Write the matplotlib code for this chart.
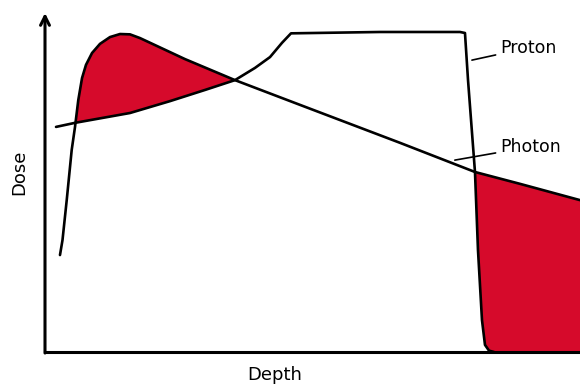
import numpy as np
import matplotlib
matplotlib.use("Agg")
import matplotlib.pyplot as plt

# depth (0-100) and relative dose (0-100)
photon_depth = [2.80, 3.27, 4.06, 4.99, 5.61, 6.22, 6.92, 7.66, 8.79, 10.28,
                12.15, 14.02, 15.89, 17.76, 26.17, 35.51, 47.66, 66.36, 80.37, 88.79, 100.0]
photon_dose = [28.6, 33.0, 44.8, 59.6, 66.4, 74.3, 80.8, 84.7, 88.2, 90.9,
               92.9, 93.8, 93.7, 92.6, 86.4, 80.2, 72.9, 61.7, 53.1, 49.6, 44.8]

proton_depth = [2.06, 5.61, 15.89, 23.36, 29.91, 35.51, 39.25, 42.06, 44.30, 45.98,
                62.62, 77.57, 78.50, 79.07, 80.37, 80.93, 81.68, 82.24, 82.99, 83.93]
proton_dose = [66.4, 67.6, 70.5, 74.0, 77.3, 80.2, 83.8, 87.0, 91.2, 94.0,
               94.4, 94.4, 94.1, 80.2, 53.1, 30.1, 9.4, 2.1, 0.4, 0.0]

labels = ["Proton", "Photon"]
RED = "#d60a2b"


def main() -> None:
    fig = plt.figure(figsize=(5.8, 3.87), dpi=100)
    ax = fig.add_axes([45 / 580, 35 / 387, 535 / 580, 339 / 387])
    ax.set_xlim(0, 100)
    ax.set_ylim(0, 100)

    # red areas where photon dose exceeds proton dose
    x = np.linspace(photon_depth[0], 100, 2000)
    ph = np.interp(x, photon_depth, photon_dose)
    pr = np.interp(x, proton_depth, proton_dose, left=np.nan, right=0.0)
    ax.fill_between(x, pr, ph, where=ph > pr, interpolate=True,
                    color=RED, lw=0, zorder=1)

    ax.plot(photon_depth, photon_dose, color="black", lw=1.9,
            solid_capstyle="round", solid_joinstyle="round", zorder=3)
    ax.plot(proton_depth, proton_dose, color="black", lw=1.9,
            solid_capstyle="round", solid_joinstyle="round", zorder=3)

    for s in ["top", "right", "left"]:
        ax.spines[s].set_visible(False)
    ax.spines["bottom"].set_linewidth(2.2)
    ax.set_xticks([])
    ax.set_yticks([])
    ax.annotate("", xy=(0, 100), xytext=(0, -0.3),
                arrowprops=dict(arrowstyle="->", lw=2.2, color="black",
                                shrinkA=0, shrinkB=0, mutation_scale=16),
                annotation_clip=False)

    ax.annotate(labels[0], xy=(79.8, 86.1), xytext=(85.0, 89.7),
                ha="left", va="center", fontsize=12.5,
                arrowprops=dict(arrowstyle="-", lw=1.2, color="black",
                                shrinkA=1, shrinkB=0))
    ax.annotate(labels[1], xy=(76.6, 56.6), xytext=(85.0, 60.5),
                ha="left", va="center", fontsize=12.5,
                arrowprops=dict(arrowstyle="-", lw=1.2, color="black",
                                shrinkA=1, shrinkB=0))

    fig.text(19.5 / 580, 1 - 172.5 / 387, "Dose", rotation=90,
             ha="center", va="center", fontsize=13)
    fig.text(275 / 580, 1 - 375 / 387, "Depth", ha="center", va="center",
             fontsize=13)

    fig.savefig("out.png", dpi=100)


if __name__ == "__main__":
    main()
